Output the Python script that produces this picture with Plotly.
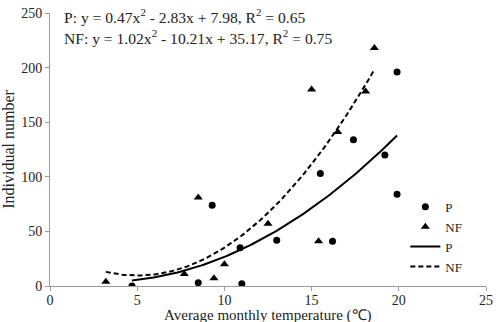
import numpy as np
import plotly.graph_objects as go

# Data
p_temp = [4.7, 8.5, 9.3, 10.9, 11.0, 13.0, 15.5, 16.2, 17.4, 19.2, 19.9, 19.9]
p_count = [0, 3, 74, 35, 2, 42, 103, 41, 134, 120, 84, 196]
nf_temp = [3.2, 7.7, 8.5, 9.4, 10.0, 12.5, 15.0, 15.4, 16.5, 18.1, 18.6]
nf_count = [4, 11, 81, 7, 20, 57, 180, 41, 141, 178, 218]

# Quadratic trendline coefficients shown in the chart (a, b, c)
p_coef = [0.47, -2.83, 7.98]
nf_coef = [1.02, -10.21, 35.17]

font_family = "Liberation Serif, Times New Roman, serif"
txt_color = "#222222"

def trend(xs, coef):
    xx = np.linspace(min(xs), max(xs), 100)
    return xx, np.polyval(coef, xx)

px_, py_ = trend(p_temp, p_coef)
nx_, ny_ = trend(nf_temp, nf_coef)

fig = go.Figure()
fig.add_trace(go.Scatter(x=p_temp, y=p_count, mode="markers", name="P",
                         marker=dict(symbol="circle", size=7, color="black")))
fig.add_trace(go.Scatter(x=nf_temp, y=nf_count, mode="markers", name="NF",
                         marker=dict(symbol="triangle-up", size=8, color="black")))
fig.add_trace(go.Scatter(x=px_, y=py_, mode="lines", name="P",
                         line=dict(color="black", width=2)))
fig.add_trace(go.Scatter(x=nx_, y=ny_, mode="lines", name="NF",
                         line=dict(color="black", width=2, dash="5px,3px")))

axis_common = dict(showgrid=False, zeroline=False, showline=True, linecolor="#9a9a9a",
                   linewidth=1, ticks="outside", tickcolor="#9a9a9a", ticklen=4,
                   automargin=False,
                   tickfont=dict(family=font_family, size=14, color=txt_color))

fig.update_layout(
    width=498, height=322,
    margin=dict(l=50, r=12, t=13, b=36),
    plot_bgcolor="white", paper_bgcolor="white",
    font=dict(family=font_family, size=14, color=txt_color),
    xaxis=dict(range=[0, 25], dtick=5, ticklabelstandoff=-3, **axis_common),
    yaxis=dict(range=[0, 250], dtick=50,
               title=dict(text="Individual number",
                          font=dict(family=font_family, size=16, color=txt_color)),
               **axis_common),
    legend=dict(x=0.815, y=0.345, xanchor="left", yanchor="top",
                bgcolor="rgba(0,0,0,0)", tracegroupgap=0,
                font=dict(family=font_family, size=13, color=txt_color)),
    showlegend=True,
)

fig.add_annotation(xref="paper", yref="paper", x=0.5, y=0, xanchor="center", yanchor="middle",
                   yshift=-29, text="Average monthly temperature (℃)",
                   showarrow=False, font=dict(family=font_family, size=15, color=txt_color))
fig.add_annotation(xref="paper", yref="paper", x=0.027, y=0.99, xanchor="left", yanchor="middle",
                   text="P: y = 0.47x<sup>2</sup> - 2.83x + 7.98, R<sup>2</sup> = 0.65",
                   showarrow=False, font=dict(family=font_family, size=15.6, color=txt_color))
fig.add_annotation(xref="paper", yref="paper", x=0.027, y=0.913, xanchor="left", yanchor="middle",
                   text="NF: y = 1.02x<sup>2</sup> - 10.21x + 35.17, R<sup>2</sup> = 0.75",
                   showarrow=False, font=dict(family=font_family, size=15.6, color=txt_color))

fig.write_html("out.html")
